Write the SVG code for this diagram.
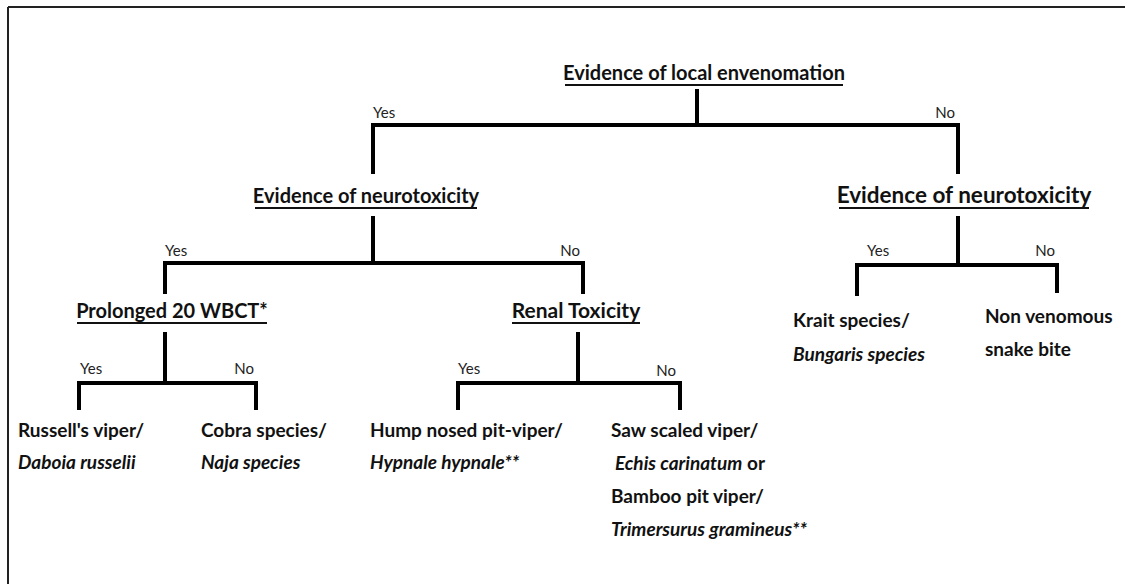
<svg xmlns="http://www.w3.org/2000/svg" width="1125" height="584" viewBox="0 0 1125 584">
<style>
.h{font-family:Lato,"Liberation Sans",sans-serif;font-weight:700;font-size:20px;fill:#111;text-anchor:middle}
.u{stroke:#111;stroke-width:2}
.l{font-family:Lato,"Liberation Sans",sans-serif;font-weight:400;font-size:15px;fill:#222}
.leaf{font-family:Lato,"Liberation Sans",sans-serif;font-weight:700;font-size:19px;fill:#111}
.i{font-style:italic}
.c{stroke:#000;stroke-width:4;fill:none;stroke-linecap:square}
</style>
<rect width="1125" height="584" fill="#fff"/>
<path d="M8 7H1125M8 7V584" stroke="#222" stroke-width="2" fill="none"/>
<g id="connectors">
<path class="c" d="M697 91V125M373 172V125H958V172"/>
<path class="c" d="M373 218V263M165 292V263H583V292"/>
<path class="c" d="M958 218V265M857 294V265H1057V291"/>
<path class="c" d="M165 334V383M79 408V383H256V408"/>
<path class="c" d="M578 334V383M458 408V383H680V408"/>
<g class="l">
<text x="373" y="118">Yes</text>
<text x="955" y="118" text-anchor="end">No</text>
<text x="165" y="256">Yes</text>
<text x="580" y="256" text-anchor="end">No</text>
<text x="867" y="256">Yes</text>
<text x="1055" y="256" text-anchor="end">No</text>
<text x="80" y="374">Yes</text>
<text x="254" y="374" text-anchor="end">No</text>
<text x="458" y="374">Yes</text>
<text x="676" y="376" text-anchor="end">No</text>
</g>
</g>
<g id="n-local">
<text class="h" x="704" y="80">Evidence of local envenomation</text>
<line class="u" x1="565" y1="85" x2="843" y2="85"/>
</g>
<g id="n-neuro-left">
<text class="h" x="366" y="203">Evidence of neurotoxicity</text>
<line class="u" x1="255" y1="208" x2="477" y2="208"/>
</g>
<g id="n-neuro-right">
<text class="h" x="964" y="203" style="font-size:22.5px">Evidence of neurotoxicity</text>
<line class="u" x1="839" y1="208" x2="1089" y2="208"/>
</g>
<g id="n-wbct">
<text class="h" x="172" y="318">Prolonged 20 WBCT*</text>
<line class="u" x1="77" y1="323" x2="267" y2="323"/>
</g>
<g id="n-renal">
<text class="h" x="576" y="318" style="font-size:21px">Renal Toxicity</text>
<line class="u" x1="512" y1="323" x2="640" y2="323"/>
</g>
<g id="n-russell">
<text class="leaf" x="18" y="437">Russell's viper/</text>
<text class="leaf i" x="18" y="469">Daboia russelii</text>
</g>
<g id="n-cobra">
<text class="leaf" x="201" y="437">Cobra species/</text>
<text class="leaf i" x="201" y="469">Naja species</text>
</g>
<g id="n-hump">
<text class="leaf" x="370" y="437">Hump nosed pit-viper/</text>
<text class="leaf i" x="370" y="469">Hypnale hypnale**</text>
</g>
<g id="n-saw">
<text class="leaf" x="611" y="437">Saw scaled viper/</text>
<text class="leaf" x="615" y="470"><tspan class="i">Echis carinatum</tspan> or</text>
<text class="leaf" x="611" y="503">Bamboo pit viper/</text>
<text class="leaf i" x="611" y="536">Trimersurus gramineus**</text>
</g>
<g id="n-krait">
<text class="leaf" x="793" y="327">Krait species/</text>
<text class="leaf i" x="793" y="361">Bungaris species</text>
</g>
<g id="n-nonven">
<text class="leaf" x="985" y="323">Non venomous</text>
<text class="leaf" x="985" y="356">snake bite</text>
</g>
</svg>
